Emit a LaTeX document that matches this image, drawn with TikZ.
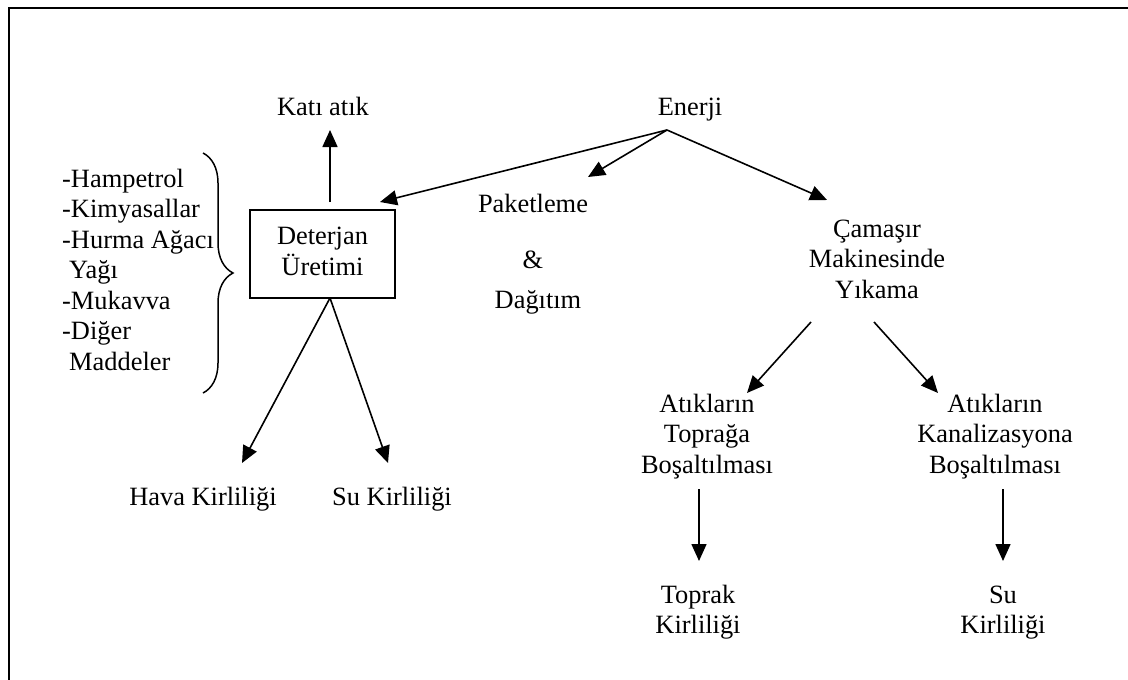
\documentclass[tikz,border=0pt]{standalone}
\usepackage{fontspec}
\setmainfont{Liberation Serif}
\usetikzlibrary{arrows.meta,decorations.pathreplacing}
% top-aligned stack of centred (or left-aligned) lines
\newcommand{\linestack}[2][c]{\begin{tabular}[t]{@{}#1@{}}#2\end{tabular}}
\begin{document}
\begin{tikzpicture}[x=1pt,y=-1pt,
  txt/.style={inner sep=0pt, anchor=base, font=\fontsize{26.4}{30.5}\selectfont},
  arr/.style={line width=1.6pt, -{Triangle[length=17pt,width=15pt]}},
  procbox/.style={draw, line width=1.8pt, minimum width=145pt, minimum height=88pt,
    inner sep=0pt, font=\fontsize{26.4}{30.5}\selectfont}]
\useasboundingbox (0,0) rectangle (1128,680);
\fill[white] (0,0) rectangle (1128,680);
% page frame
\draw[line width=2pt] (1128,8) -- (9,8) -- (9,680);

% texts
\node[txt] (kati) at (323,115) {Katı atık};
\node[txt] (enerji) at (690,115) {Enerji};
\node[procbox] (det) at (322.5,254) {\linestack{Deterjan\\Üretimi}};
\node[txt, anchor=base west] (girdi) at (62,187)
  {\linestack[l]{-Hampetrol\\-Kimyasallar\\-Hurma Ağacı\\\hspace*{7pt}Yağı\\-Mukavva\\-Diğer\\\hspace*{7pt}Maddeler}};
\node[txt] (pak) at (533,212) {Paketleme};
\node[txt] (amp) at (533,268) {\&};
\node[txt] (dag) at (538,308) {Dağıtım};
\node[txt] (cam) at (877,237) {\linestack{Çamaşır\\Makinesinde\\Yıkama}};
\node[txt] (topr) at (707,412) {\linestack{Atıkların\\Toprağa\\Boşaltılması}};
\node[txt] (kanal) at (995,412) {\linestack{Atıkların\\Kanalizasyona\\Boşaltılması}};
\node[txt] (hava) at (203,505) {Hava Kirliliği};
\node[txt] (su1) at (392,505) {Su Kirliliği};
\node[txt] (topk) at (698,603) {\linestack{Toprak\\Kirliliği}};
\node[txt] (su2) at (1003,603) {\linestack{Su\\Kirliliği}};

% brace grouping the inputs
\draw[line width=1.5pt, decorate, decoration={brace, amplitude=30pt}] (203,153) -- (203,393);

% connector end points
\coordinate (e0) at (667,130);
\coordinate (eDet) at (380,202);
\coordinate (ePak) at (588,177);
\coordinate (eCam) at (827,200);
\coordinate (kTop) at (330,130);
\coordinate (kBot) at (330,202);
\coordinate (dApex) at (330,298);
\coordinate (hTip) at (242,463);
\coordinate (sTip) at (388,463);
\coordinate (cL) at (811,322);
\coordinate (cLtip) at (747,393);
\coordinate (cR) at (874,322);
\coordinate (cRtip) at (938,393);
\coordinate (tA) at (699,489);
\coordinate (tB) at (699,561);
\coordinate (kA) at (1003,489);
\coordinate (kB) at (1003,561);

% connectors
\draw[arr] (e0) -- (eDet);
\draw[arr] (e0) -- (ePak);
\draw[arr] (e0) -- (eCam);
\draw[arr] (kBot) -- (kTop);
\draw[arr] (dApex) -- (hTip);
\draw[arr] (dApex) -- (sTip);
\draw[arr] (cL) -- (cLtip);
\draw[arr] (cR) -- (cRtip);
\draw[arr] (tA) -- (tB);
\draw[arr] (kA) -- (kB);
\end{tikzpicture}
\end{document}
